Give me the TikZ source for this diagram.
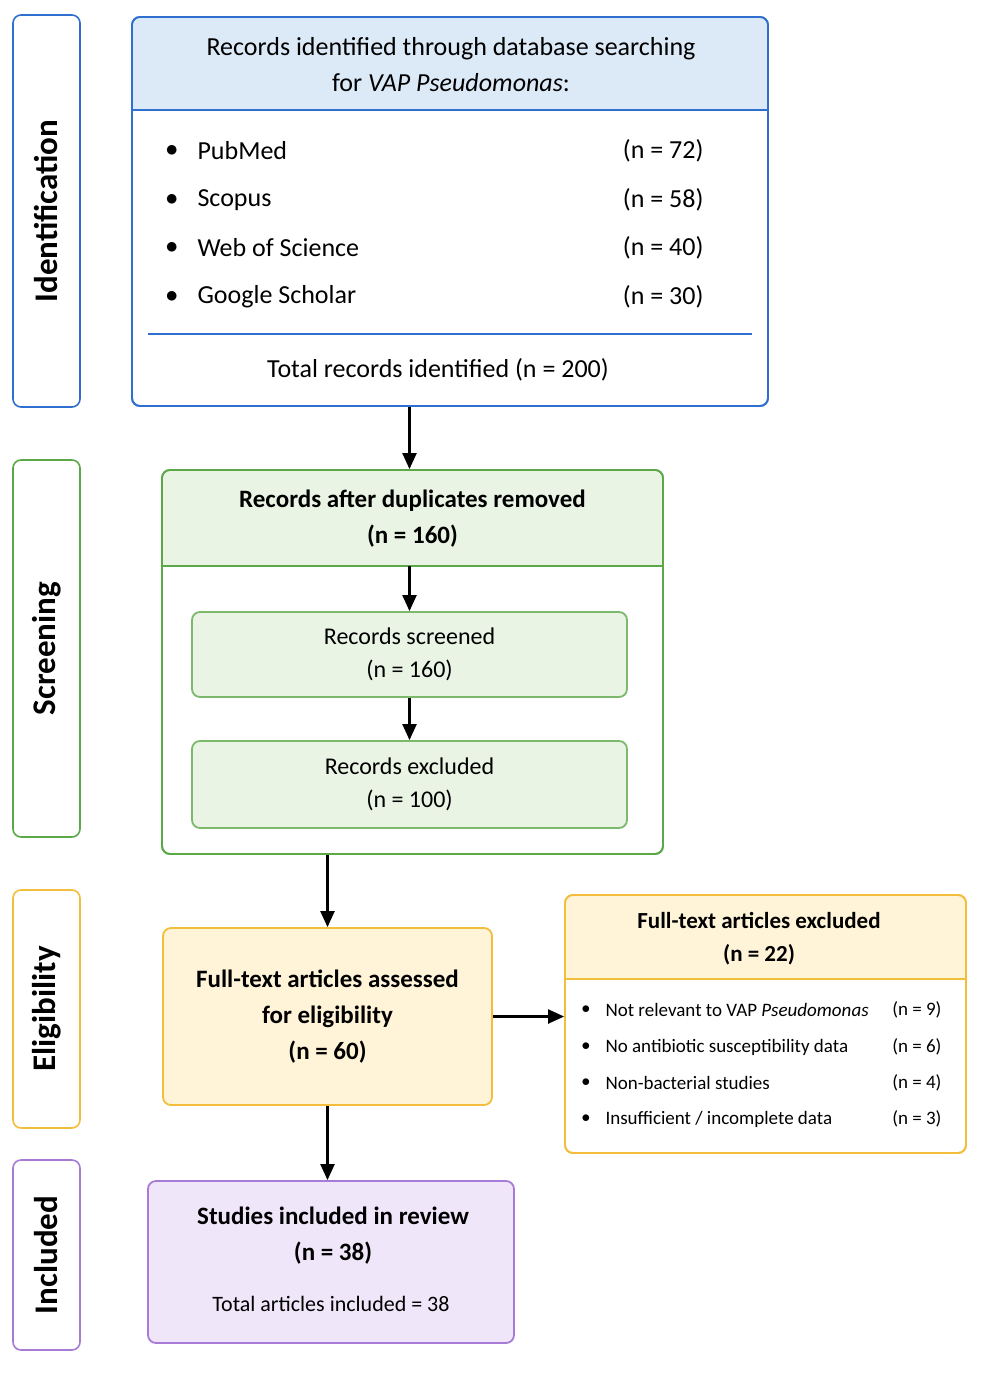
\documentclass[tikz,border=0pt]{standalone}
\usepackage{fontspec}
\setmainfont{Carlito}
\usetikzlibrary{arrows.meta}
\definecolor{bB}{HTML}{2F6FD0}\definecolor{fB}{HTML}{DCEAF8}
\definecolor{bG}{HTML}{5AA848}\definecolor{fG}{HTML}{EAF4E4}
\definecolor{bY}{HTML}{F2BE3C}\definecolor{fY}{HTML}{FFF4D8}
\definecolor{bP}{HTML}{A77BD6}\definecolor{fP}{HTML}{F0E6F9}
\tikzstyle{side}=[draw,line width=1.6pt,rounded corners=8pt,minimum height=67pt,inner sep=0pt,font=\fontsize{33}{36}\selectfont\bfseries,rotate=90]
\tikzstyle{box}=[draw,line width=1.8pt,rounded corners=8pt,inner sep=0pt,fill=white]
\tikzstyle{hT}=[font=\fontsize{26}{36}\selectfont,align=center]
\tikzstyle{iT}=[font=\fontsize{26}{30}\selectfont,anchor=west]
\tikzstyle{sT}=[font=\fontsize{19}{22}\selectfont,anchor=west]
\tikzstyle{arr}=[line width=2.2pt,-{Triangle[length=16pt,width=14pt]}]

\begin{document}
\begin{tikzpicture}[x=1pt,y=-1pt]
\useasboundingbox (0,0) rectangle (986,1376);
% stage labels
\draw (46.5,211) node[side,draw=bB,minimum width=392pt] (sI) {Identification};
\draw (46.5,648.5) node[side,draw=bG,minimum width=377pt] (sS) {Screening};
\draw (46.5,1009) node[side,draw=bY,minimum width=238pt] (sE) {Eligibility};
\draw (46.5,1255) node[side,draw=bP,minimum width=190pt] (sC) {Included};
% identification
\draw (450,211.5) node[box,draw=bB,minimum width=636pt,minimum height=389pt] (ident) {};
\fill[fB,rounded corners=8pt] (133,18) rectangle (767,110);
\fill[fB] (133,60) rectangle (767,110);
\draw[bB,line width=1.8pt] (132,110) -- (768,110);
\draw[bB,line width=1.8pt,rounded corners=8pt] (132,17) rectangle (768,406);
\draw (451,65) node[hT] (hdrI) {Records identified through database searching\\for \textit{VAP Pseudomonas}:};
\foreach \y/\t/\n in {151/PubMed/72,200/Scopus/58,248/Web of Science/40,297/Google Scholar/30}{
  \draw (162,\y) node[iT] {$\bullet$};
  \draw (194,\y) node[iT] {\t};
  \draw (707,\y) node[iT,anchor=east] {(n = \n)};
}
\draw[bB,line width=2pt] (148,334) -- (752,334);
\draw (438,370) node[iT,anchor=center] (tot) {Total records identified (n = 200)};
% screening
\draw (412.5,662) node[box,draw=bG,minimum width=501pt,minimum height=384pt] (screen) {};
\fill[fG,rounded corners=8pt] (163,471) rectangle (662,566);
\fill[fG] (163,520) rectangle (662,566);
\draw[bG,line width=1.8pt] (162,566) -- (663,566);
\draw[bG,line width=1.8pt,rounded corners=8pt] (162,470) rectangle (663,854);
\draw (412.5,519) node[hT,font=\fontsize{25}{36}\selectfont\bfseries] (hdrS) {Records after duplicates removed\\(n = 160)};
\draw (409.5,654.5) node[box,draw=bG!80,fill=fG,minimum width=435pt,minimum height=85pt,hT,font=\fontsize{24}{33}\selectfont] (scr) {Records screened\\(n = 160)};
\draw (409.5,784.5) node[box,draw=bG!80,fill=fG,minimum width=435pt,minimum height=87pt,hT,font=\fontsize{24}{33}\selectfont] (exc) {Records excluded\\(n = 100)};
\coordinate (sA) at (409.5,566);
\draw[arr] (sA) -- (scr.north);
\draw[arr] (scr.south) -- (exc.north);
% eligibility
\draw (327.5,1016.5) node[box,draw=bY,fill=fY,minimum width=329pt,minimum height=177pt,hT,font=\fontsize{25}{36}\selectfont\bfseries] (elig) {Full-text articles assessed\\for eligibility\\(n = 60)};
\draw (765.5,1024) node[box,draw=bY,minimum width=401pt,minimum height=258pt] (excl) {};
\fill[fY,rounded corners=8pt] (566,896) rectangle (965,979);
\fill[fY] (566,940) rectangle (965,979);
\draw[bY,line width=1.8pt] (565,979) -- (966,979);
\draw[bY,line width=1.8pt,rounded corners=8pt] (565,895) rectangle (966,1153);
\draw (759,939) node[hT,font=\fontsize{23}{33}\selectfont\bfseries] (hdrX) {Full-text articles excluded\\(n = 22)};
\foreach \y/\t/\n in {1010/{Not relevant to VAP \textit{Pseudomonas}}/9,1047/{No antibiotic susceptibility data}/6,1083/{Non-bacterial studies}/4,1119/{Insufficient {/} incomplete data}/3}{
  \draw (578,\y) node[sT] {$\bullet$};
  \draw (602,\y) node[sT] {\t};
  \draw (945,\y) node[sT,anchor=east] {(n = \n)};
}
% included
\draw (331,1262) node[box,draw=bP,fill=fP,minimum width=366pt,minimum height=162pt] (incl) {};
\draw (333,1236) node[hT,font=\fontsize{25}{36}\selectfont\bfseries] (hdrC) {Studies included in review\\(n = 38)};
\draw (331,1304) node[iT,anchor=center,font=\fontsize{22}{26}\selectfont] (totC) {Total articles included = 38};
% connectors
\draw[arr] (ident.south -| sA) -- (screen.north -| sA);
\draw[arr] (screen.south -| elig.north) -- (elig.north);
\draw[arr] (elig.east) -- (excl.west |- elig.east);
\draw[arr] (elig.south) -- (incl.north -| elig.south);
\end{tikzpicture}
\end{document}
